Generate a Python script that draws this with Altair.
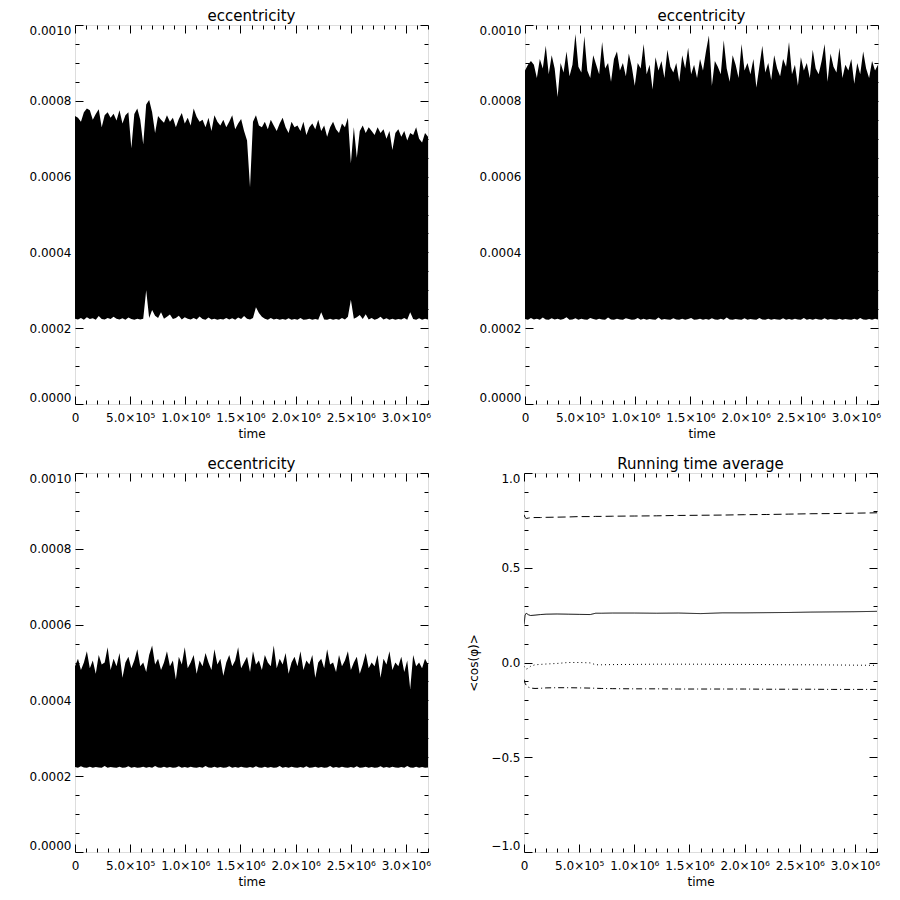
import altair as alt
import numpy as np
import pandas as pd

T_MAX = 3.2e6

# ---- eccentricity panels: upper / lower envelope of the dense oscillation (units of 1e-4)
hi1 = [7.60, 7.55, 7.45, 7.70, 7.80, 7.75, 7.50, 7.65, 7.78, 7.30,
       7.62, 7.70, 7.55, 7.66, 7.48, 7.75, 7.40, 7.62, 7.70, 6.75,
       7.65, 7.80, 7.50, 6.85, 7.90, 8.02, 7.70, 7.15, 7.60, 7.50,
       7.42, 7.62, 7.45, 7.55, 7.30, 7.52, 7.68, 7.40, 7.55, 7.35,
       7.80, 7.58, 7.45, 7.50, 7.30, 7.55, 7.20, 7.62, 7.45, 7.35,
       7.50, 7.30, 7.45, 7.62, 7.25, 7.40, 7.52, 7.20, 6.95, 5.72,
       7.45, 7.62, 7.35, 7.30, 7.45, 7.25, 7.50, 7.35, 7.20, 7.40,
       7.55, 7.30, 7.15, 7.45, 7.30, 7.35, 7.20, 7.45, 7.10, 7.30,
       7.40, 7.25, 7.50, 7.20, 7.35, 7.05, 7.30, 7.45, 7.25, 7.15,
       7.40, 7.30, 7.55, 6.35, 7.30, 6.50, 7.20, 7.35, 7.15, 7.30,
       7.20, 7.10, 7.30, 7.15, 7.25, 7.00, 7.20, 6.70, 7.15, 7.25,
       7.05, 7.20, 6.95, 7.15, 7.10, 7.30, 7.00, 6.90, 7.15, 7.05]
lo1 = [2.25, 2.23, 2.27, 2.22, 2.29, 2.24, 2.26, 2.22, 2.32, 2.24,
       2.23, 2.27, 2.24, 2.30, 2.25, 2.23, 2.26, 2.22, 2.28, 2.24,
       2.22, 2.25, 2.23, 2.25, 3.00, 2.27, 2.48, 2.33, 2.27, 2.42,
       2.25, 2.30, 2.36, 2.24, 2.27, 2.33, 2.23, 2.29, 2.25, 2.23,
       2.27, 2.23, 2.31, 2.24, 2.22, 2.28, 2.23, 2.25, 2.22, 2.24,
       2.23, 2.27, 2.23, 2.26, 2.22, 2.28, 2.24, 2.32, 2.25, 2.23,
       2.27, 2.55, 2.40, 2.30, 2.25, 2.22, 2.27, 2.23, 2.25, 2.22,
       2.24, 2.22, 2.26, 2.22, 2.24, 2.22, 2.27, 2.22, 2.23, 2.25,
       2.22, 2.24, 2.22, 2.42, 2.23, 2.22, 2.25, 2.22, 2.24, 2.22,
       2.27, 2.23, 2.30, 2.75, 2.25, 2.29, 2.35, 2.24, 2.37, 2.23,
       2.27, 2.22, 2.25, 2.30, 2.23, 2.26, 2.22, 2.25, 2.22, 2.24,
       2.23, 2.27, 2.22, 2.42, 2.24, 2.22, 2.26, 2.22, 2.25, 2.23]

hi2 = [8.80, 8.95, 9.05, 8.95, 8.60, 9.10, 8.85, 9.45, 8.70, 9.20,
       8.85, 8.10, 9.00, 8.75, 9.30, 8.65, 8.95, 9.76, 8.90, 8.75,
       9.70, 8.80, 8.60, 9.20, 8.95, 8.70, 9.55, 8.85, 9.00, 8.50,
       9.10, 9.30, 8.80, 9.00, 8.65, 9.25, 8.90, 8.40, 9.00, 8.85,
       9.50, 8.70, 8.95, 8.30, 9.15, 8.80, 9.05, 8.60, 9.35, 8.90,
       8.75, 9.00, 8.50, 9.20, 8.85, 9.40, 8.70, 8.95, 8.60, 9.10,
       8.80, 9.30, 9.72, 8.40, 9.05, 8.90, 8.70, 9.60, 8.85, 8.50,
       9.20, 8.95, 8.60, 9.50, 8.80, 9.00, 8.70, 9.10, 8.35, 8.90,
       9.45, 8.75, 9.00, 8.55, 9.20, 8.85, 8.65, 9.10, 8.90, 9.55,
       8.70, 8.95, 8.40, 9.15, 8.80, 9.00, 8.60, 9.35, 8.85, 8.70,
       9.05, 9.50, 8.50, 9.25, 8.90, 8.75, 9.40, 8.60, 8.95, 8.80,
       9.10, 8.45, 9.00, 8.70, 9.30, 8.85, 8.60, 9.05, 8.80, 8.95]
lo2 = [2.24, 2.22, 2.27, 2.23, 2.25, 2.22, 2.28, 2.23, 2.22, 2.26,
       2.23, 2.25, 2.22, 2.24, 2.29, 2.22, 2.23, 2.26, 2.22, 2.25,
       2.23, 2.22, 2.27, 2.24, 2.22, 2.25, 2.23, 2.22, 2.28, 2.23,
       2.22, 2.25, 2.23, 2.22, 2.26, 2.24, 2.22, 2.23, 2.27, 2.22,
       2.25, 2.22, 2.24, 2.23, 2.22, 2.28, 2.22, 2.24, 2.23, 2.22,
       2.26, 2.23, 2.22, 2.25, 2.22, 2.24, 2.27, 2.22, 2.23, 2.25,
       2.22, 2.24, 2.22, 2.26, 2.23, 2.22, 2.25, 2.22, 2.28, 2.23,
       2.22, 2.24, 2.23, 2.22, 2.26, 2.22, 2.24, 2.23, 2.22, 2.27,
       2.23, 2.22, 2.25, 2.22, 2.24, 2.23, 2.22, 2.26, 2.22, 2.24,
       2.22, 2.25, 2.23, 2.22, 2.27, 2.22, 2.24, 2.22, 2.25, 2.23,
       2.22, 2.26, 2.22, 2.24, 2.23, 2.22, 2.25, 2.22, 2.24, 2.23,
       2.22, 2.25, 2.22, 2.27, 2.23, 2.22, 2.24, 2.22, 2.25, 2.23]

hi3 = [4.90, 5.10, 4.80, 5.00, 5.30, 4.85, 5.05, 4.70, 5.20, 4.95,
       5.00, 5.40, 4.80, 5.10, 4.90, 5.25, 4.60, 5.00, 5.15, 4.85,
       5.05, 5.35, 4.90, 5.00, 4.75, 5.20, 5.45, 4.95, 5.10, 4.80,
       5.00, 5.30, 4.90, 5.05, 4.55, 5.15, 4.95, 5.40, 4.85, 5.00,
       5.20, 4.70, 5.05, 4.90, 5.25, 5.00, 4.80, 5.35, 4.95, 5.10,
       4.65, 5.00, 5.20, 4.90, 5.05, 5.40, 4.85, 5.00, 5.15, 4.75,
       5.30, 4.95, 5.05, 4.80, 5.20, 5.00, 4.90, 5.45, 4.85, 5.10,
       4.95, 5.25, 4.70, 5.00, 5.15, 4.90, 5.30, 4.80, 5.05, 4.95,
       5.20, 4.60, 5.00, 5.10, 4.85, 5.35, 4.95, 5.00, 4.75, 5.20,
       4.90, 5.05, 5.30, 4.80, 5.00, 5.15, 4.70, 4.95, 5.25, 4.85,
       5.00, 4.90, 5.20, 4.60, 5.10, 4.95, 5.30, 4.80, 5.00, 4.90,
       5.15, 4.75, 5.05, 4.30, 5.20, 4.90, 5.00, 4.85, 5.10, 4.95]
lo3 = [2.24, 2.22, 2.26, 2.23, 2.22, 2.25, 2.22, 2.24, 2.23, 2.22,
       2.27, 2.22, 2.24, 2.23, 2.22, 2.25, 2.22, 2.23, 2.26, 2.22,
       2.24, 2.22, 2.23, 2.25, 2.22, 2.24, 2.22, 2.27, 2.23, 2.22,
       2.25, 2.22, 2.24, 2.22, 2.23, 2.26, 2.22, 2.24, 2.22, 2.25,
       2.23, 2.22, 2.24, 2.22, 2.27, 2.23, 2.22, 2.25, 2.22, 2.24,
       2.22, 2.23, 2.26, 2.22, 2.24, 2.22, 2.25, 2.23, 2.22, 2.24,
       2.22, 2.26, 2.23, 2.22, 2.25, 2.22, 2.24, 2.22, 2.23, 2.27,
       2.22, 2.24, 2.22, 2.25, 2.23, 2.22, 2.24, 2.22, 2.26, 2.22,
       2.23, 2.25, 2.22, 2.24, 2.22, 2.23, 2.27, 2.22, 2.24, 2.22,
       2.25, 2.23, 2.22, 2.24, 2.22, 2.26, 2.22, 2.23, 2.25, 2.22,
       2.24, 2.22, 2.23, 2.26, 2.22, 2.24, 2.22, 2.25, 2.23, 2.22,
       2.24, 2.22, 2.27, 2.23, 2.22, 2.25, 2.22, 2.24, 2.22, 2.23]

# ---- running time average of cos(phi): four curves
t_avg = [0, 1e4, 2e4, 4e4, 6e4, 1e5, 1.5e5, 2e5, 3e5, 4e5, 5e5, 6e5, 6.5e5, 7e5,
         8e5, 1e6, 1.2e6, 1.4e6, 1.6e6, 1.8e6, 2e6, 2.2e6, 2.4e6, 2.6e6, 2.8e6, 3e6, 3.2e6]
avg_dashed = [0.78, 0.765, 0.76, 0.762, 0.764, 0.765, 0.765, 0.766, 0.767, 0.768, 0.77, 0.77,
              0.771, 0.771, 0.772, 0.773, 0.774, 0.776, 0.777, 0.778, 0.78, 0.781, 0.783,
              0.785, 0.786, 0.788, 0.79]
avg_solid = [0.20, 0.25, 0.26, 0.252, 0.248, 0.25, 0.253, 0.255, 0.256, 0.255, 0.254, 0.253,
             0.26, 0.26, 0.261, 0.261, 0.26, 0.261, 0.258, 0.262, 0.262, 0.263, 0.264, 0.266,
             0.267, 0.268, 0.27]
avg_dotted = [-0.02, -0.03, -0.035, -0.03, -0.02, -0.012, -0.01, -0.008, -0.005, 0.0, 0.0,
              -0.002, -0.012, -0.012, -0.011, -0.01, -0.009, -0.009, -0.009, -0.01, -0.01,
              -0.011, -0.012, -0.012, -0.013, -0.014, -0.015]
avg_dashdot = [-0.09, -0.11, -0.12, -0.13, -0.135, -0.137, -0.136, -0.134, -0.133, -0.133,
               -0.134, -0.135, -0.136, -0.137, -0.138, -0.139, -0.139, -0.14, -0.14, -0.14,
               -0.14, -0.141, -0.141, -0.141, -0.142, -0.142, -0.142]

# ---- ticks and labels
x_major = [0, 5e5, 1e6, 1.5e6, 2e6, 2.5e6, 3e6]
x_major_labels = ["0", "5.0×10⁵", "1.0×10⁶", "1.5×10⁶", "2.0×10⁶", "2.5×10⁶", "3.0×10⁶"]
x_minor = [k * 1e5 for k in range(0, 33) if k % 5 != 0]
ecc_major = [0, 0.0002, 0.0004, 0.0006, 0.0008, 0.001]
ecc_minor = [k * 0.00005 for k in range(0, 21) if k % 4 != 0]
avg_major = [-1.0, -0.5, 0.0, 0.5, 1.0]
avg_minor = [round(-1 + k * 0.1, 2) for k in range(0, 21) if k % 5 != 0]

FONT = "DejaVu Sans"
W, H = 353, 379

label_expr = " : ".join(
    f"abs(datum.value - {v}) < 1 ? '{lab}'" for v, lab in zip(x_major, x_major_labels)
) + " : ''"


def axis_common(**kw):
    base = dict(domain=False, grid=False, tickColor="black", tickWidth=1,
                labelColor="black", titleColor="black", labelFont=FONT, titleFont=FONT,
                labelFontSize=12, titleFontSize=12, titleFontWeight="normal")
    base.update(kw)
    return alt.Axis(**base)


def panel_title(text):
    return alt.TitleParams(text, font=FONT, fontSize=15, fontWeight="normal",
                           color="black", offset=0)


def layered(data, main_mark, ycol, ydomain, yvals_major, yvals_minor, yfmt,
            ytitle=None, y_extent=74, y_title_pad=4, extra_enc=None):
    xs = alt.Scale(domain=[0, T_MAX], nice=False, zero=False)
    ys = alt.Scale(domain=ydomain, nice=False, zero=False)

    x_bottom = axis_common(orient="bottom", values=x_major, labelExpr=label_expr,
                           offset=-8, tickSize=8, labelPadding=8, labelFlush=False,
                           labelOverlap=False, title="time", titlePadding=6,
                           minExtent=26, maxExtent=26)
    left_kw = dict(orient="left", values=yvals_major, format=yfmt, offset=-8, tickSize=8,
                   labelPadding=4, labelOverlap=False, labelFlush=True,
                   minExtent=y_extent, maxExtent=y_extent, titlePadding=y_title_pad)
    left_kw["title"] = ytitle
    y_left = axis_common(**left_kw)

    enc = dict(x=alt.X("t:Q", scale=xs, axis=x_bottom),
               y=alt.Y(f"{ycol}:Q", scale=ys, axis=y_left))
    if extra_enc:
        enc.update(extra_enc)
    main = main_mark.encode(**enc)

    def ghost(xax, yax):
        return alt.Chart(data).mark_point(opacity=0, size=0, clip=True).encode(
            x=alt.X("t:Q", scale=xs, axis=xax),
            y=alt.Y(f"{ycol}:Q", scale=ys, axis=yax),
        )

    minor_b = ghost(
        axis_common(orient="bottom", values=x_minor, labels=False, offset=-4, tickSize=4,
                    title=None, minExtent=0, maxExtent=0),
        axis_common(orient="left", values=yvals_minor, labels=False, offset=-4, tickSize=4,
                    title=None, minExtent=0, maxExtent=0),
    )
    major_t = ghost(
        axis_common(orient="top", values=x_major, labels=False, offset=-8, tickSize=8,
                    title=None, minExtent=0, maxExtent=0),
        axis_common(orient="right", values=yvals_major, labels=False, offset=-8, tickSize=8,
                    title=None, minExtent=0, maxExtent=0),
    )
    minor_t = ghost(
        axis_common(orient="top", values=x_minor, labels=False, offset=-4, tickSize=4,
                    title=None, minExtent=0, maxExtent=0),
        axis_common(orient="right", values=yvals_minor, labels=False, offset=-4, tickSize=4,
                    title=None, minExtent=0, maxExtent=0),
    )
    return alt.layer(main, minor_b, major_t, minor_t).resolve_axis(x="independent", y="independent")


def ecc_panel(hi, lo):
    n = len(hi)
    df = pd.DataFrame({
        "t": np.linspace(0, T_MAX, n),
        "hi": np.array(hi) * 1e-4,
        "lo": np.array(lo) * 1e-4,
    })
    mark = alt.Chart(df).mark_area(interpolate="linear", color="black", clip=True)
    ch = layered(df, mark, "hi", [0, 0.001], ecc_major, ecc_minor, ".4f",
                 extra_enc={"y2": alt.Y2("lo:Q")})
    return ch.properties(width=W, height=H, title=panel_title("eccentricity"))


rows = []
for name, vals in [("A", avg_dashed), ("B", avg_solid), ("C", avg_dotted), ("D", avg_dashdot)]:
    for t, v in zip(t_avg, vals):
        rows.append({"t": t, "v": v, "s": name})
df_avg = pd.DataFrame(rows)

avg_mark = alt.Chart(df_avg).mark_line(color="black", strokeWidth=1, clip=True)
p4 = layered(df_avg, avg_mark, "v", [-1, 1], avg_major, avg_minor, ".1f",
             ytitle="<cos(φ)>", y_extent=40, y_title_pad=12,
             extra_enc={
                 "strokeDash": alt.StrokeDash(
                     "s:N",
                     scale=alt.Scale(domain=["A", "B", "C", "D"],
                                     range=[[8, 4], [1, 0], [1, 3], [6, 3, 1, 3]]),
                     legend=None),
                 "detail": alt.Detail("s:N"),
             }).properties(width=W, height=H, title=panel_title("Running time average"))

p1 = ecc_panel(hi1, lo1)
p2 = ecc_panel(hi2, lo2)
p3 = ecc_panel(hi3, lo3)

row1 = alt.hconcat(p1, p2, spacing=26)
row2 = alt.hconcat(p3, p4, spacing=34)

chart = (
    alt.vconcat(row1, row2, spacing=16)
    .properties(padding={"left": 0, "top": 0, "right": 0, "bottom": 0}, background="white")
    .configure_view(stroke="black", strokeWidth=1)
    .configure(font=FONT)
)

chart.save("out.html", embed_options={"renderer": "svg", "actions": False})
